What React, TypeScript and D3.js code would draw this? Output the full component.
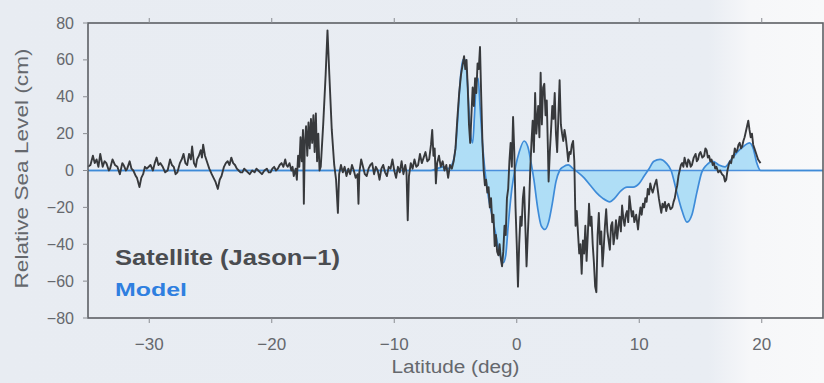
import React from "react";
import * as d3 from "d3";

// ---- data ----
const xTicks = [-30, -20, -10, 0, 10, 20];
const yTicks = [-80, -60, -40, -20, 0, 20, 40, 60, 80];
const xDomain = [-35, 25];
const yDomain = [-80, 80];

const satellite: [number, number][] = [
  [-35.0, 2], [-34.8, 3], [-34.6, 8], [-34.45, 4], [-34.3, 6], [-34.15, 2], [-34.0, 9], [-33.8, 2], [-33.65, 5], [-33.5, 4],
  [-33.3, 0], [-33.2, 1], [-33.0, 6], [-32.8, 3], [-32.6, 2], [-32.4, -2], [-32.2, 4], [-32.1, 3], [-31.9, 0], [-31.8, 1],
  [-31.6, 5], [-31.45, 1], [-31.3, 0], [-31.1, -3], [-31.0, -4], [-30.8, -9], [-30.65, -4], [-30.5, -2], [-30.35, 2], [-30.2, 1],
  [-29.9, 3], [-29.7, 0], [-29.55, 4], [-29.4, 7], [-29.25, 3], [-29.1, 4], [-28.9, 2], [-28.7, -1], [-28.5, 0], [-28.3, 6],
  [-28.15, 3], [-28.0, 2], [-27.85, -2], [-27.7, -1], [-27.5, 4], [-27.35, 6], [-27.2, 9], [-27.05, 4], [-26.9, 3], [-26.75, 9],
  [-26.6, 6], [-26.5, 13], [-26.35, 4], [-26.2, 2], [-26.1, 6], [-25.95, 8], [-25.8, 11], [-25.7, 7], [-25.6, 14], [-25.45, 8],
  [-25.3, 5], [-25.2, 3], [-25.1, 1], [-24.9, -2], [-24.75, -4], [-24.6, -6], [-24.5, -8], [-24.4, -10], [-24.25, -5], [-24.1, -3],
  [-23.9, 2], [-23.75, 4], [-23.6, 5], [-23.45, 3], [-23.3, 7], [-23.15, 4], [-23.0, 3], [-22.85, 1], [-22.7, 0], [-22.55, -1],
  [-22.4, -1], [-22.25, 1], [-22.1, 0], [-21.95, -1], [-21.8, -2], [-21.6, 0], [-21.4, -1], [-21.25, 1], [-21.1, 0], [-20.95, -1],
  [-20.8, -2], [-20.6, 0], [-20.4, 1], [-20.25, -1], [-20.1, -1], [-19.95, 1], [-19.8, 2], [-19.65, 0], [-19.5, 1], [-19.35, 3],
  [-19.2, 4], [-19.05, 2], [-18.9, 6], [-18.8, 3], [-18.7, 2], [-18.55, 4], [-18.4, 0], [-18.3, 2], [-18.2, -3], [-18.05, 1],
  [-17.95, -5], [-17.85, 8], [-17.75, 2], [-17.65, 18], [-17.55, 5], [-17.45, 22], [-17.38, -18], [-17.3, 15], [-17.2, 24], [-17.1, 8],
  [-17.0, 26], [-16.9, 12], [-16.8, 28], [-16.7, 15], [-16.6, 30], [-16.5, 10], [-16.4, 31], [-16.3, 5], [-16.2, 20], [-16.1, 0],
  [-16.0, 2], [-15.8, 25], [-15.6, 52], [-15.45, 76], [-15.3, 52], [-15.1, 22], [-14.9, 3], [-14.75, -5], [-14.6, -23], [-14.5, -2],
  [-14.35, 3], [-14.2, -1], [-14.05, 2], [-13.9, -3], [-13.75, 1], [-13.6, -2], [-13.45, 3], [-13.3, 0], [-13.15, -4], [-13.0, -2],
  [-12.92, -18], [-12.85, -1], [-12.7, 6], [-12.55, 2], [-12.4, -2], [-12.25, -3], [-12.1, 1], [-11.95, 3], [-11.8, 4], [-11.65, -2],
  [-11.5, 2], [-11.35, 0], [-11.2, -5], [-11.05, 1], [-10.9, 3], [-10.75, -1], [-10.6, -3], [-10.45, 2], [-10.3, 1], [-10.15, 6],
  [-10.0, 0], [-9.85, -4], [-9.7, 2], [-9.55, -1], [-9.4, 5], [-9.25, -2], [-9.1, 3], [-9.0, -1], [-8.9, -27], [-8.8, -3],
  [-8.65, 4], [-8.5, 1], [-8.35, 6], [-8.2, 2], [-8.05, 3], [-7.9, 9], [-7.75, 4], [-7.6, 7], [-7.45, 10], [-7.3, 5],
  [-7.15, 6], [-7.0, 14], [-6.9, 22], [-6.8, 8], [-6.7, 12], [-6.6, -7], [-6.5, 4], [-6.35, 8], [-6.2, 2], [-6.05, 5],
  [-5.9, 0], [-5.75, 3], [-5.6, -4], [-5.45, 3], [-5.3, 1], [-5.15, 5], [-5.0, 12], [-4.85, 28], [-4.7, 42], [-4.55, 52],
  [-4.4, 58], [-4.3, 62], [-4.2, 55], [-4.1, 60], [-4.0, 45], [-3.9, 25], [-3.8, 15], [-3.7, 30], [-3.6, 45], [-3.5, 35],
  [-3.4, 50], [-3.3, 42], [-3.2, 58], [-3.1, 55], [-3.0, 67], [-2.9, 40], [-2.8, 15], [-2.7, 0], [-2.6, -8], [-2.5, -5],
  [-2.4, -12], [-2.3, -9], [-2.2, -20], [-2.1, -15], [-2.0, -28], [-1.9, -24], [-1.8, -41], [-1.7, -35], [-1.6, -44], [-1.5, -46],
  [-1.4, -40], [-1.3, -48], [-1.2, -52], [-1.1, -44], [-1.0, -30], [-0.9, -35], [-0.8, -15], [-0.7, -10], [-0.6, 5], [-0.5, 15],
  [-0.4, 2], [-0.3, 29], [-0.2, 10], [-0.1, -20], [0.0, -40], [0.1, -63], [0.2, -40], [0.3, -25], [0.4, -30], [0.5, -15],
  [0.6, -9], [0.7, -30], [0.8, -52], [0.9, -35], [1.0, -20], [1.1, 0], [1.2, 15], [1.3, 27], [1.4, 10], [1.5, 42],
  [1.6, 20], [1.75, 35], [1.85, 18], [1.95, 53], [2.05, 25], [2.15, 45], [2.25, 47], [2.35, 30], [2.45, 38], [2.55, 10],
  [2.6, -6], [2.7, 10], [2.8, 22], [2.9, 35], [3.0, 28], [3.1, 42], [3.2, 20], [3.3, 10], [3.4, 30], [3.5, 49],
  [3.6, 25], [3.7, 20], [3.8, 16], [3.9, 22], [4.0, 18], [4.1, 12], [4.2, 5], [4.3, 10], [4.4, 9], [4.5, 14],
  [4.6, 16], [4.7, 5], [4.8, -30], [4.9, -22], [5.0, -34], [5.1, -45], [5.2, -40], [5.3, -56], [5.4, -38], [5.5, -45],
  [5.6, -30], [5.7, -49], [5.8, -35], [5.9, -18], [6.0, -30], [6.1, -25], [6.2, -40], [6.3, -50], [6.4, -63], [6.5, -66],
  [6.6, -35], [6.7, -23], [6.8, -40], [6.9, -33], [7.0, -52], [7.1, -42], [7.2, -30], [7.3, -21], [7.4, -33], [7.5, -38],
  [7.6, -43], [7.7, -30], [7.8, -28], [7.9, -40], [8.0, -35], [8.1, -27], [8.2, -37], [8.3, -30], [8.4, -25], [8.5, -33],
  [8.6, -19], [8.7, -26], [8.8, -30], [8.9, -24], [9.0, -22], [9.1, -28], [9.2, -14], [9.3, -20], [9.4, -25], [9.5, -22],
  [9.6, -28], [9.75, -24], [9.9, -32], [10.0, -25], [10.1, -20], [10.2, -24], [10.3, -18], [10.4, -20], [10.5, -15], [10.6, -17],
  [10.7, -10], [10.8, -13], [10.9, -7], [11.0, -10], [11.1, -12], [11.25, -8], [11.4, -5], [11.5, -10], [11.6, -15], [11.7, -19],
  [11.8, -23], [11.9, -18], [12.0, -20], [12.1, -17], [12.2, -22], [12.3, -19], [12.4, -18], [12.55, -21], [12.7, -20], [12.8, -17],
  [12.9, -15], [13.0, -11], [13.1, -8], [13.2, -3], [13.3, 0], [13.4, 3], [13.5, 4], [13.6, 2], [13.7, 7], [13.8, 4],
  [13.9, 2], [14.0, 6], [14.1, 5], [14.2, 2], [14.3, 3], [14.45, 7], [14.6, 9], [14.7, 5], [14.8, 6], [14.9, 9],
  [15.0, 10], [15.15, 7], [15.3, 8], [15.4, 12], [15.5, 11], [15.6, 7], [15.7, 8], [15.8, 5], [15.9, 6], [16.0, 3],
  [16.1, 4], [16.2, 1], [16.3, 2], [16.45, -1], [16.6, 0], [16.75, -2], [16.9, -3], [17.0, -6], [17.1, -5], [17.2, 0],
  [17.3, 3], [17.4, 5], [17.5, 4], [17.6, 8], [17.7, 7], [17.8, 12], [17.9, 10], [18.0, 11], [18.1, 14], [18.2, 15],
  [18.3, 12], [18.4, 13], [18.5, 16], [18.6, 18], [18.7, 21], [18.8, 24], [18.9, 27], [19.0, 22], [19.1, 18], [19.2, 20],
  [19.3, 14], [19.4, 12], [19.5, 10], [19.6, 8], [19.7, 6], [19.8, 5], [19.9, 4],
];

const model: [number, number][] = [
  [-35, 0], [-7.0, 0], [-6.5, 1], [-6.0, 2], [-5.6, 1], [-5.3, 3], [-5.0, 12], [-4.8, 30], [-4.6, 50], [-4.4, 60],
  [-4.2, 60], [-4.0, 45], [-3.8, 22], [-3.6, 15], [-3.45, 30], [-3.3, 48], [-3.15, 50], [-3.0, 35], [-2.8, 15], [-2.6, 0],
  [-2.3, -15], [-2.0, -25], [-1.7, -35], [-1.4, -45], [-1.1, -50], [-0.9, -46], [-0.7, -30], [-0.4, -10], [-0.1, 2], [0.2, 10],
  [0.6, 16], [0.9, 13], [1.15, 5], [1.4, -5], [1.7, -20], [2.0, -30], [2.3, -32], [2.6, -28], [2.9, -18], [3.2, -6],
  [3.5, 0], [3.8, 2], [4.2, 3], [4.6, 1], [5.0, -1], [5.5, -4], [6.0, -8], [6.5, -12], [7.0, -15], [7.6, -17],
  [8.0, -15], [8.5, -11], [9.0, -9], [9.5, -9], [10.0, -7], [10.4, -3], [10.8, 1], [11.2, 5], [11.7, 6], [12.2, 4],
  [12.6, 0], [13.0, -10], [13.5, -22], [13.9, -28], [14.3, -24], [14.7, -12], [15.1, -1], [15.5, 3], [16.0, 5], [16.5, 3],
  [17.0, 2], [17.5, 6], [18.0, 10], [18.5, 13], [19.0, 15], [19.3, 12], [19.6, 4], [19.9, 0], [25, 0],
];

const legendSatellite = "Satellite (Jason\u22121)";
const legendModel = "Model";
const xTitle = "Latitude (deg)";
const yTitle = "Relative Sea Level (cm)";

const W = 824;
const H = 383;
const M = { left: 88, right: 823, top: 23, bottom: 318 };

export default function App() {
  const x = d3.scaleLinear().domain(xDomain).range([M.left, M.right]);
  const y = d3.scaleLinear().domain(yDomain).range([M.bottom, M.top]);

  const satLine = d3
    .line<[number, number]>()
    .x((d) => x(d[0]))
    .y((d) => y(d[1]));
  const modelLine = d3
    .line<[number, number]>()
    .x((d) => x(d[0]))
    .y((d) => y(d[1]))
    .curve(d3.curveMonotoneX);
  const modelArea = d3
    .area<[number, number]>()
    .x((d) => x(d[0]))
    .y0(y(0))
    .y1((d) => y(d[1]))
    .curve(d3.curveMonotoneX);

  const fontFam = "Liberation Sans, Arial, Helvetica, sans-serif";
  const labelColor = "#65686d";

  return (
    <svg
      width={W}
      height={H}
      style={{ position: "absolute", left: 0, top: 0, display: "block" }}
      fontFamily={fontFam}
    >
      <defs>
        <linearGradient id="bg" x1="0" x2="1" y1="0" y2="0">
          <stop offset="0" stopColor="#e8ecf2" />
          <stop offset="0.86" stopColor="#e9edf3" />
          <stop offset="0.91" stopColor="#f6f7f9" />
          <stop offset="1" stopColor="#f8f9fa" />
        </linearGradient>
      </defs>
      <rect x={0} y={0} width={W} height={H} fill="url(#bg)" />

      {/* model fill */}
      <path d={modelArea(model) || ""} fill="#a8dcf6" opacity={0.9} />
      {/* zero line */}
      <line x1={M.left} x2={M.right} y1={y(0)} y2={y(0)} stroke="#4a8fdc" strokeWidth={1.5} />
      {/* model line */}
      <path d={modelLine(model) || ""} fill="none" stroke="#3e8bd8" strokeWidth={1.7} />
      {/* satellite */}
      <path
        d={satLine(satellite) || ""}
        fill="none"
        stroke="#37393c"
        strokeWidth={1.9}
        strokeLinejoin="round"
      />

      {/* frame */}
      <rect
        x={M.left}
        y={M.top}
        width={M.right - M.left}
        height={M.bottom - M.top}
        fill="none"
        stroke="#5d6064"
        strokeWidth={1.6}
      />

      {/* x ticks */}
      {xTicks.map((t) => (
        <g key={"x" + t}>
          <line x1={x(t)} x2={x(t)} y1={M.bottom} y2={M.bottom + 5} stroke="#8a8d92" strokeWidth={1} />
          <line x1={x(t)} x2={x(t)} y1={M.top} y2={M.top - 5} stroke="#8a8d92" strokeWidth={1} />
          <text x={x(t)} y={350} textAnchor="middle" fontSize={17} fill={labelColor}>
            {t < 0 ? "\u2212" + Math.abs(t) : String(t)}
          </text>
        </g>
      ))}

      {/* y ticks */}
      {yTicks.map((t) => (
        <g key={"y" + t}>
          <line x1={M.left - 5} x2={M.left} y1={y(t)} y2={y(t)} stroke="#8a8d92" strokeWidth={1} />
          <text x={74} y={y(t)} dy="0.35em" textAnchor="end" fontSize={16} fill={labelColor}>
            {t < 0 ? "\u2212" + Math.abs(t) : String(t)}
          </text>
        </g>
      ))}

      {/* axis titles */}
      <text
        x={(M.left + M.right) / 2}
        y={373}
        textAnchor="middle"
        fontSize={18}
        fill={labelColor}
        textLength={128}
        lengthAdjust="spacingAndGlyphs"
      >
        {xTitle}
      </text>
      <text
        transform={`translate(28, ${(M.top + M.bottom) / 2 - 2}) rotate(-90)`}
        textAnchor="middle"
        fontSize={18}
        fill={labelColor}
        textLength={240}
        lengthAdjust="spacingAndGlyphs"
      >
        {yTitle}
      </text>

      {/* legend */}
      <text
        x={115}
        y={265}
        fontSize={22}
        fontWeight="bold"
        fill="#4a4c50"
        textLength={225}
        lengthAdjust="spacingAndGlyphs"
      >
        {legendSatellite}
      </text>
      <text
        x={115}
        y={296}
        fontSize={19}
        fontWeight="bold"
        fill="#2f7fe0"
        textLength={72}
        lengthAdjust="spacingAndGlyphs"
      >
        {legendModel}
      </text>
    </svg>
  );
}
